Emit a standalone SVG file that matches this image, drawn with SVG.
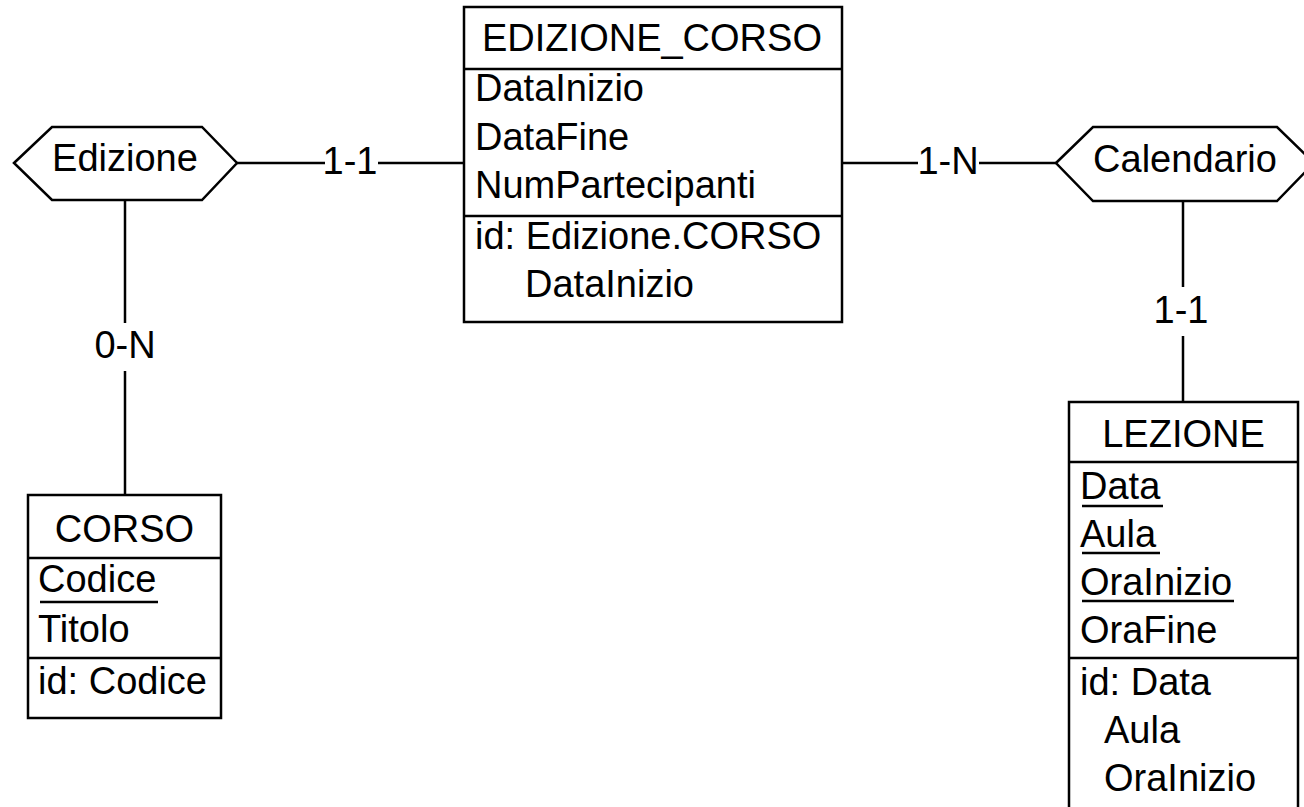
<svg xmlns="http://www.w3.org/2000/svg" width="1304" height="807" viewBox="0 0 1304 807">
<style>
text{font-family:"Liberation Sans",Arial,sans-serif;font-size:38px;fill:#000}
.c{text-anchor:middle}
.b{fill:#fff;stroke:#000;stroke-width:2.5}
.l{stroke:#000;stroke-width:2.5;fill:none}
.u{stroke:#000;stroke-width:2.5}
</style>
<rect width="1304" height="807" fill="#fff"/>
<g id="connectors">
<line class="l" x1="237" y1="163" x2="325" y2="163"/>
<line class="l" x1="378" y1="163" x2="464" y2="163"/>
<text class="c" x="350" y="174">1-1</text>
<line class="l" x1="842" y1="163" x2="918" y2="163"/>
<line class="l" x1="979" y1="163" x2="1056" y2="163"/>
<text class="c" x="948" y="174">1-N</text>
<line class="l" x1="125" y1="200" x2="125" y2="323"/>
<line class="l" x1="125" y1="371" x2="125" y2="495"/>
<text class="c" x="125" y="358">0-N</text>
<line class="l" x1="1183" y1="201" x2="1183" y2="287"/>
<line class="l" x1="1183" y1="336" x2="1183" y2="402"/>
<text class="c" x="1181" y="323">1-1</text>
</g>
<g id="edizione">
<polygon class="b" points="14,163 52,127 202,127 237,163 202,200 52,200"/>
<text class="c" x="125" y="171">Edizione</text>
</g>
<g id="calendario">
<polygon class="b" points="1056,163 1093,127 1277,127 1314,163 1277,201 1093,201"/>
<text class="c" x="1185" y="172">Calendario</text>
</g>
<g id="edizione_corso">
<rect class="b" x="464" y="7" width="378" height="315"/>
<line class="u" x1="464" y1="69" x2="842" y2="69"/>
<line class="u" x1="464" y1="216" x2="842" y2="216"/>
<text class="c" x="652" y="51">EDIZIONE_CORSO</text>
<text x="475" y="101">DataInizio</text>
<text x="475" y="150">DataFine</text>
<text x="475" y="198">NumPartecipanti</text>
<text x="475" y="249">id: Edizione.CORSO</text>
<text x="525" y="297">DataInizio</text>
</g>
<g id="corso">
<rect class="b" x="28" y="495" width="193" height="223"/>
<line class="u" x1="28" y1="558" x2="221" y2="558"/>
<line class="u" x1="28" y1="658" x2="221" y2="658"/>
<text class="c" x="124.5" y="542">CORSO</text>
<text x="38" y="592">Codice</text>
<line class="u" x1="40" y1="602" x2="158" y2="602"/>
<text x="38" y="642">Titolo</text>
<text x="38" y="694">id: Codice</text>
</g>
<g id="lezione">
<rect class="b" x="1069" y="402" width="229" height="420"/>
<line class="u" x1="1069" y1="462" x2="1298" y2="462"/>
<line class="u" x1="1069" y1="658" x2="1298" y2="658"/>
<text class="c" x="1183.5" y="447">LEZIONE</text>
<text x="1080" y="499">Data</text>
<line class="u" x1="1082" y1="506" x2="1163" y2="506"/>
<text x="1080" y="547">Aula</text>
<line class="u" x1="1082" y1="553" x2="1160" y2="553"/>
<text x="1080" y="595">OraInizio</text>
<line class="u" x1="1082" y1="601" x2="1234" y2="601"/>
<text x="1080" y="643">OraFine</text>
<text x="1080" y="695">id: Data</text>
<text x="1104" y="743">Aula</text>
<text x="1104" y="791">OraInizio</text>
</g>
</svg>
